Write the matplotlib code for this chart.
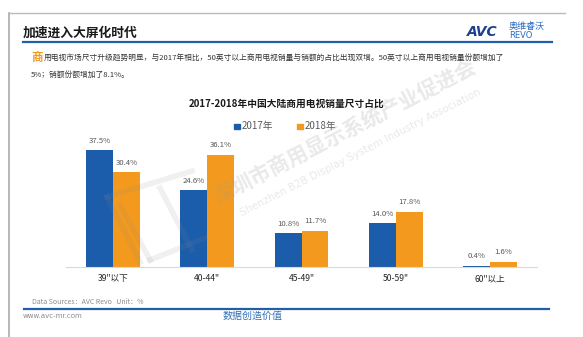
import matplotlib
matplotlib.use("Agg")
import matplotlib.pyplot as plt
import numpy as np
from matplotlib.lines import Line2D
from matplotlib.patches import Rectangle

plt.rcParams['font.family'] = ['Noto Sans CJK SC', 'DejaVu Sans']

categories = ['39"以下', '40-44"', '45-49"', '50-59"', '60"以上']
series_names = ['2017年', '2018年']
values_2017 = [37.5, 24.6, 10.8, 14.0, 0.4]
values_2018 = [30.4, 36.1, 11.7, 17.8, 1.6]

W, H = 583, 337
fig = plt.figure(figsize=(W / 100, H / 100), dpi=100)
fig.patch.set_facecolor('white')

def fx(x):
    return x / W

def fy(y):
    return 1 - y / H

BLUE = '#1B5CAB'
ORANGE = '#F39A1E'
LINEBLUE = '#1F5FAA'

# slide border
fig.add_artist(Line2D([fx(9), fx(9)], [fy(13), fy(337)], color='#AAAAAA', lw=1.2))
fig.add_artist(Line2D([fx(9), fx(565)], [fy(13), fy(13)], color='#BBBBBB', lw=1.0))

# header
fig.text(fx(23), fy(33), '加速进入大屏化时代', fontsize=9.2, fontweight='bold',
         color='#1A1A1A', va='center', ha='left')
fig.add_artist(Line2D([fx(23), fx(552)], [fy(42), fy(42)], color=LINEBLUE, lw=1.6))

# logo
fig.text(fx(467), fy(32), 'AVC', fontsize=10, fontweight='bold', style='italic',
         color='#1C3F8F', va='center', ha='left', family=['DejaVu Sans'])
fig.text(fx(509), fy(26), '奥维睿沃', fontsize=6.5, color='#2B6CC4', va='center', ha='left')
fig.text(fx(509), fy(36), 'REVO', fontsize=6, color='#2B6CC4', va='center', ha='left',
         family=['DejaVu Sans'])

# subtitle
fig.text(fx(31), fy(57), '商', fontsize=8.3, fontweight='bold', color='#F39A1E',
         va='center', ha='left')
fig.text(fx(44), fy(57.5),
         '用电视市场尺寸升级趋势明显，与2017年相比，50英寸以上商用电视销量与销额的占比出现双增。50英寸以上商用电视销量份额增加了',
         fontsize=5.55, color='#333333', va='center', ha='left')
fig.text(fx(31), fy(75), '5%；销额份额增加了8.1%。', fontsize=5.55, color='#333333',
         va='center', ha='left')

# chart
ax = fig.add_axes([fx(66), fy(267), fx(537) - fx(66), (267 - 130) / H])
ax.set_facecolor('none')
x = np.arange(len(categories))
bw = 0.286
b1 = ax.bar(x - bw / 2, values_2017, bw, color=BLUE, label=series_names[0], zorder=2)
b2 = ax.bar(x + bw / 2, values_2018, bw, color=ORANGE, label=series_names[1], zorder=2)
ax.set_xlim(-0.5, 4.5)
ax.set_ylim(0, 44)
for bars, vals in ((b1, values_2017), (b2, values_2018)):
    for rect, v in zip(bars, vals):
        ax.annotate(f'{v:.1f}%', (rect.get_x() + rect.get_width() / 2, v),
                    xytext=(0, 4), textcoords='offset points', ha='center', va='bottom',
                    fontsize=5.6, color='#595959')
ax.set_xticks(x)
ax.set_xticklabels(categories, fontsize=6.2, color='#262626')
ax.tick_params(axis='x', length=0, pad=5)
ax.set_yticks([])
for s in ('left', 'right', 'top'):
    ax.spines[s].set_visible(False)
ax.spines['bottom'].set_color('#D9D9D9')
ax.spines['bottom'].set_linewidth(0.8)

# chart title
fig.text(fx(287), fy(104), '2017-2018年中国大陆商用电视销量尺寸占比', fontsize=7.0,
         fontweight='bold', color='#1A1A1A', ha='center', va='center')

# legend
fig.add_artist(Rectangle((fx(234), fy(129)), 5.5 / W, 5.5 / H, color=BLUE,
                         transform=fig.transFigure))
fig.text(fx(242), fy(126), series_names[0], fontsize=7, color='#595959', va='center', ha='left')
fig.add_artist(Rectangle((fx(297), fy(129)), 5.5 / W, 5.5 / H, color=ORANGE,
                         transform=fig.transFigure))
fig.text(fx(305), fy(126), series_names[1], fontsize=7, color='#595959', va='center', ha='left')

# watermark
fig.text(fx(345), fy(132), '深圳市商用显示系统产业促进会', fontsize=15, fontweight='bold',
         color='#9A9A9A', alpha=0.22, rotation=27, ha='center', va='center',
         rotation_mode='anchor')
fig.text(fx(360), fy(153), 'Shenzhen B2B Display System Industry Association', fontsize=7.5,
         color='#9A9A9A', alpha=0.22, rotation=27, ha='center', va='center',
         rotation_mode='anchor', family=['DejaVu Sans'])
for (x0, y0, x1, y1) in [(107, 197, 192, 171), (107, 197, 140, 262), (120, 205, 150, 260),
                         (150, 260, 205, 238), (160, 188, 192, 250)]:
    fig.add_artist(Line2D([fx(x0), fx(x1)], [fy(y0), fy(y1)], color='#888888', lw=4,
                          alpha=0.12))

# footer
fig.text(fx(32), fy(302), 'Data Sources：AVC Revo   Unit：%', fontsize=5, color='#8C8C8C',
         va='center', ha='left')
fig.add_artist(Line2D([fx(24), fx(549)], [fy(308.5), fy(308.5)], color=LINEBLUE, lw=1.6))
fig.text(fx(23), fy(316), 'www.avc-mr.com', fontsize=5, color='#8C8C8C', va='center', ha='left',
         family=['DejaVu Sans'])
fig.text(fx(253), fy(316), '数据创造价值', fontsize=7.2, color='#2E6DB4', style='italic',
         va='center', ha='center')

fig.savefig('out.png', dpi=100, facecolor='white')
